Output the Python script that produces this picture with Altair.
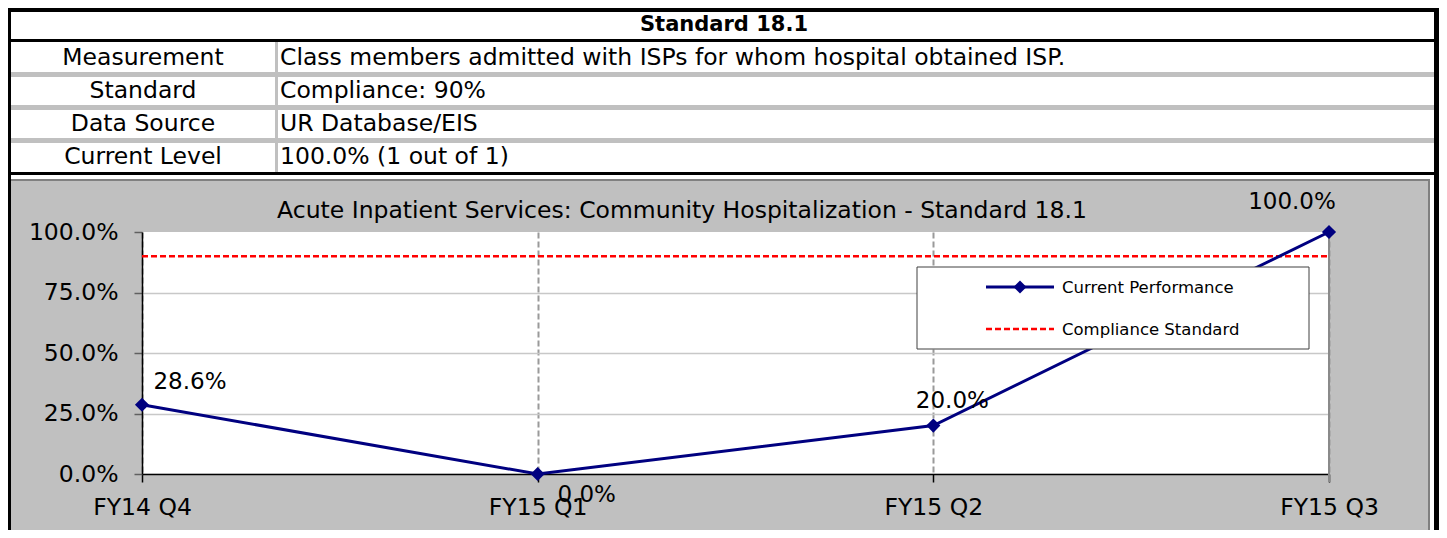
import altair as alt
import pandas as pd

# ---------------- data ----------------
quarters = ["FY14 Q4", "FY15 Q1", "FY15 Q2", "FY15 Q3"]
performance = [28.6, 0.0, 20.0, 100.0]          # percent
standard = [90.0, 90.0, 90.0, 90.0]             # percent
series_names = ["Current Performance", "Compliance Standard"]
y_ticks = [0, 25, 50, 75, 100]                  # percent

table_heading = "Standard 18.1"
table_labels = ["Measurement", "Standard", "Data Source", "Current Level"]
table_values = [
    "Class members admitted with ISPs for whom hospital obtained ISP.",
    "Compliance: 90%",
    "UR Database/EIS",
    "100.0% (1 out of 1)",
]
chart_title = "Acute Inpatient Services: Community Hospitalization - Standard 18.1"

# ---------------- layout / style ----------------
FONT = "DejaVu Sans"
OX, OY = 142, 232          # page position of plot-area origin
W, H = 1187, 242           # plot area
PAD = {"left": 134, "top": 224, "right": 110, "bottom": 56}
NAVY = "#000080"
RED = "#FF0000"
label_offsets = [(48, -23), (49, 21), (19, -25), (-37, -30)]

df = pd.DataFrame({"quarter": quarters, "performance": performance, "standard": standard})
one = pd.DataFrame({"k": [0]})


def px(x):
    return x - OX


def py(y):
    return y - OY


def box(x1, y1, x2, y2, color):
    return alt.Chart(one).mark_rect(color=color).encode(
        x=alt.value(px(x1)), x2=alt.value(px(x2)),
        y=alt.value(py(y1)), y2=alt.value(py(y2)))


def label(txt, x, y, size=23.5, align="center", weight="normal"):
    return alt.Chart(one).mark_text(
        font=FONT, fontSize=size, align=align, baseline="middle",
        fontWeight=weight, color="black").encode(
        x=alt.value(px(x)), y=alt.value(py(y)), text=alt.value(txt))


x_enc = alt.X(
    "quarter:N", sort=quarters, title=None,
    scale=alt.Scale(type="point", padding=0),
    axis=alt.Axis(labelAngle=0, labelFont=FONT, labelFontSize=23.5, labelColor="black",
                  labelPadding=13, tickSize=8, tickColor="black", tickWidth=1.5,
                  domainColor="black", domainWidth=1.5,
                  grid=True, gridDash=[6, 3], gridColor="#9a9a9a", gridWidth=2),
)
y_axis = alt.Axis(
    values=[v / 100 for v in y_ticks], format=".1%", labelFont=FONT, labelFontSize=23.5,
    labelColor="black", labelPadding=16, tickSize=8, tickColor="#606060", tickWidth=1.5,
    domainColor="black", domainWidth=1.5,
    grid=True, gridColor="#c8c8c8", gridWidth=1.5,
    gridOpacity={"condition": {"test": "datum.value >= 1", "value": 0}, "value": 1},
)
y_scale = alt.Scale(domain=[0, 1], nice=False)

base = alt.Chart(df).transform_calculate(
    frac="datum.performance / 100", std="datum.standard / 100")

layers = []

# table area (white) and frame
RIGHT = 1439
layers.append(box(8, 8, RIGHT, 179, "white"))
layers.append(box(1429, 179, 1434, 530, "white"))
layers.append(box(8, 179, 1430, 181, "#808080"))
layers.append(box(1428, 179, 1430, 530, "#808080"))
layers.append(box(8, 8, RIGHT, 12, "black"))
layers.append(box(8, 39, RIGHT, 42, "black"))
for y1 in (72, 105, 138):
    layers.append(box(11, y1, 1434, y1 + 5, "#C0C0C0"))
layers.append(box(275, 42, 278, 172, "#C0C0C0"))
layers.append(box(8, 172, RIGHT, 175, "black"))
layers.append(box(8, 8, 11, 530, "black"))
layers.append(box(1434, 8, RIGHT, 530, "black"))

# table text
layers.append(label(table_heading, 724, 25, size=21, weight="bold"))
for i, (lab, val) in enumerate(zip(table_labels, table_values)):
    yc = 58 + 33 * i
    layers.append(label(lab, 143, yc))
    layers.append(label(val, 280, yc, align="left"))

# chart title
layers.append(label(chart_title, 682, 211))

# right edge of plot area
layers.append(alt.Chart(one).mark_rule(color="#8a8a8a", strokeWidth=2).encode(
    x=alt.value(W), y=alt.value(0), y2=alt.value(H + 8)))

# compliance standard line
layers.append(base.mark_line(color=RED, strokeWidth=2.5, strokeDash=[6, 3]).encode(
    x=x_enc, y=alt.Y("std:Q", scale=y_scale, axis=y_axis, title=None)))

# performance line + markers
layers.append(base.mark_line(color=NAVY, strokeWidth=3).encode(
    x=x_enc, y=alt.Y("frac:Q", scale=y_scale, axis=y_axis, title=None)))
layers.append(base.mark_point(shape="diamond", filled=True, size=200, color=NAVY, opacity=1).encode(
    x=x_enc, y=alt.Y("frac:Q", scale=y_scale, axis=y_axis, title=None)))

# data labels
for q, (dx, dy) in zip(quarters, label_offsets):
    layers.append(base.transform_filter(alt.datum.quarter == q).mark_text(
        font=FONT, fontSize=23, color="black", dx=dx, dy=dy, align="center",
        baseline="middle").encode(
        x=x_enc, y=alt.Y("frac:Q", scale=y_scale, axis=y_axis, title=None),
        text=alt.Text("frac:Q", format=".1%")))

# legend
layers.append(alt.Chart(one).mark_rect(fill="white", stroke="#404040", strokeWidth=1).encode(
    x=alt.value(px(917)), x2=alt.value(px(1309)), y=alt.value(py(267)), y2=alt.value(py(349))))
layers.append(alt.Chart(one).mark_rule(color=NAVY, strokeWidth=3).encode(
    x=alt.value(px(986)), x2=alt.value(px(1054)), y=alt.value(py(287))))
layers.append(alt.Chart(one).mark_point(shape="diamond", filled=True, size=170, color=NAVY, opacity=1).encode(
    x=alt.value(px(1020)), y=alt.value(py(287))))
layers.append(alt.Chart(one).mark_rule(color=RED, strokeWidth=2.5, strokeDash=[6, 3]).encode(
    x=alt.value(px(986)), x2=alt.value(px(1054)), y=alt.value(py(329))))
layers.append(label(series_names[0], 1062, 288, size=16.5, align="left"))
layers.append(label(series_names[1], 1062, 330, size=16.5, align="left"))

chart = alt.layer(*layers).properties(
    width=W, height=H, padding=PAD, autosize=alt.AutoSizeParams(type="none")
).configure(background="#C0C0C0", font=FONT).configure_view(fill="white", strokeWidth=0)

chart.save("out.html", embed_options={"renderer": "svg", "actions": False})
